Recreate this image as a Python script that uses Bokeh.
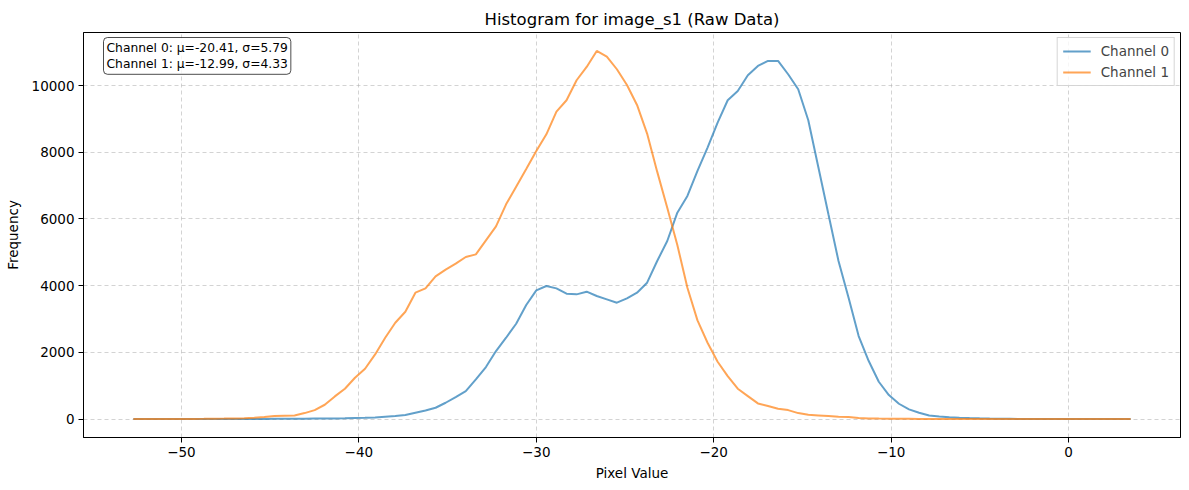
import numpy as np
from bokeh.plotting import figure
from bokeh.models import (Range1d, FixedTicker, CustomJSTickFormatter, Legend, LegendItem,
                          Label, ColumnDataSource)
from bokeh.embed import file_html
from bokeh.resources import INLINE

title_text = "Histogram for image_s1 (Raw Data)"
x_label = "Pixel Value"
y_label = "Frequency"
series_names = ["Channel 0", "Channel 1"]
stats_text = "Channel 0: \u03bc=-20.41, \u03c3=5.79\nChannel 1: \u03bc=-12.99, \u03c3=4.33"

# bin centres (100 bins between the observed first and last centre)
first_center = -52.71
last_center = 3.50
n_bins = 100
bin_centers = np.linspace(first_center, last_center, n_bins)

channel0 = [
    0, 0, 0, 0, 0, 1, 1, 1, 2, 2,
    3, 4, 5, 6, 8, 9, 10, 12, 15, 18,
    20, 25, 35, 40, 50, 70, 90, 120, 190, 260,
    340, 490, 660, 840, 1190, 1560, 2040, 2440, 2860, 3420,
    3860, 3990, 3920, 3760, 3740, 3820, 3690, 3590, 3490, 3620,
    3790, 4090, 4740, 5340, 6190, 6690, 7440, 8140, 8890, 9560,
    9840, 10310, 10590, 10740, 10740, 10340, 9890, 8960, 7550, 6140,
    4740, 3640, 2490, 1740, 1120, 720, 460, 290, 190, 110,
    80, 55, 40, 30, 22, 15, 10, 8, 5, 3,
    2, 1, 1, 1, 0, 0, 0, 0, 0, 0,
]
channel1 = [
    0, 0, 1, 1, 2, 3, 5, 7, 10, 14,
    20, 25, 40, 60, 90, 100, 110, 180, 270, 430,
    680, 910, 1240, 1510, 1940, 2440, 2890, 3220, 3790, 3920,
    4280, 4480, 4660, 4860, 4940, 5360, 5780, 6440, 6970, 7500,
    8040, 8540, 9220, 9560, 10160, 10560, 11040, 10870, 10490, 10020,
    9420, 8560, 7420, 6340, 5220, 3940, 2960, 2290, 1720, 1290,
    910, 690, 470, 390, 310, 270, 180, 130, 110, 90,
    70, 60, 30, 20, 15, 12, 10, 8, 6, 5,
    4, 3, 3, 2, 2, 1, 1, 1, 0, 0,
    0, 0, 0, 0, 0, 0, 0, 0, 0, 0,
]
x_ticks = [-50, -40, -30, -20, -10, 0]
y_ticks = [0, 2000, 4000, 6000, 8000, 10000]

colors = ["#1f77b4", "#ff7f0e"]

xmin, xmax = bin_centers.min(), bin_centers.max()
xpad = (xmax - xmin) * 0.05
ymax = max(max(channel0), max(channel1))
ypad = ymax * 0.05

FONT = "DejaVu Sans"

p = figure(width=1189, height=490, output_backend="svg", toolbar_location=None,
           x_range=Range1d(xmin - xpad, xmax + xpad),
           y_range=Range1d(-ypad, ymax + ypad),
           min_border_left=83, min_border_right=9, min_border_top=32, min_border_bottom=53)

p.title.text = title_text
p.title.align = "center"
p.title.text_font = FONT
p.title.text_font_size = "16.5px"
p.title.text_font_style = "normal"
p.title.text_color = "black"
p.title.offset = 0
p.title.standoff = 7

src = ColumnDataSource(dict(x=bin_centers, c0=channel0, c1=channel1))
r0 = p.line("x", "c0", source=src, line_color=colors[0], line_alpha=0.7, line_width=2)
r1 = p.line("x", "c1", source=src, line_color=colors[1], line_alpha=0.7, line_width=2)

minus_fmt = CustomJSTickFormatter(code="""
    return tick < 0 ? '\u2212' + Math.abs(tick).toString() : tick.toString();
""")

p.xaxis.ticker = FixedTicker(ticks=x_ticks)
p.yaxis.ticker = FixedTicker(ticks=y_ticks)
p.xaxis.formatter = minus_fmt
for ax in (p.xaxis, p.yaxis):
    ax.major_tick_out = 5
    ax.major_tick_in = 0
    ax.minor_tick_line_color = None
    ax.major_tick_line_color = "black"
    ax.axis_line_color = "black"
    ax.major_label_text_font = FONT
    ax.major_label_text_font_size = "13.5px"
    ax.major_label_text_color = "black"
    ax.axis_label_text_font = FONT
    ax.axis_label_text_font_size = "13.5px"
    ax.axis_label_text_font_style = "normal"
    ax.axis_label_text_color = "black"
    ax.major_label_standoff = 4
p.xaxis.axis_label = x_label
p.yaxis.axis_label = y_label
p.xaxis.axis_label_standoff = 5
p.yaxis.axis_label_standoff = 8

p.outline_line_color = "black"
p.outline_line_width = 1
p.outline_line_alpha = 1

for g in (p.xgrid, p.ygrid):
    g.grid_line_color = "#b0b0b0"
    g.grid_line_alpha = 0.7
    g.grid_line_dash = "4 3"
    g.grid_line_width = 0.8

legend = Legend(items=[LegendItem(label=series_names[0], renderers=[r0]),
                       LegendItem(label=series_names[1], renderers=[r1])],
                location="top_right")
legend.margin = 5
legend.padding = 5
legend.spacing = 5
legend.glyph_width = 28
legend.glyph_height = 16
legend.label_height = 16
legend.label_standoff = 10
legend.label_text_font = FONT
legend.label_text_font_size = "13.5px"
legend.border_line_color = "#cccccc"
legend.border_line_alpha = 0.8
legend.background_fill_color = "white"
legend.background_fill_alpha = 0.8
p.add_layout(legend)

stats = Label(x=20, y=400, x_units="screen", y_units="screen", text=stats_text,
              text_font=FONT, text_font_size="12.3px", text_baseline="top", text_align="left",
              text_color="black",
              background_fill_color="white", background_fill_alpha=0.8,
              border_line_color="black", border_line_alpha=0.7, border_line_width=1,
              padding=3, border_radius=4)
p.add_layout(stats)

open("out.html", "w").write(file_html(p, INLINE))
